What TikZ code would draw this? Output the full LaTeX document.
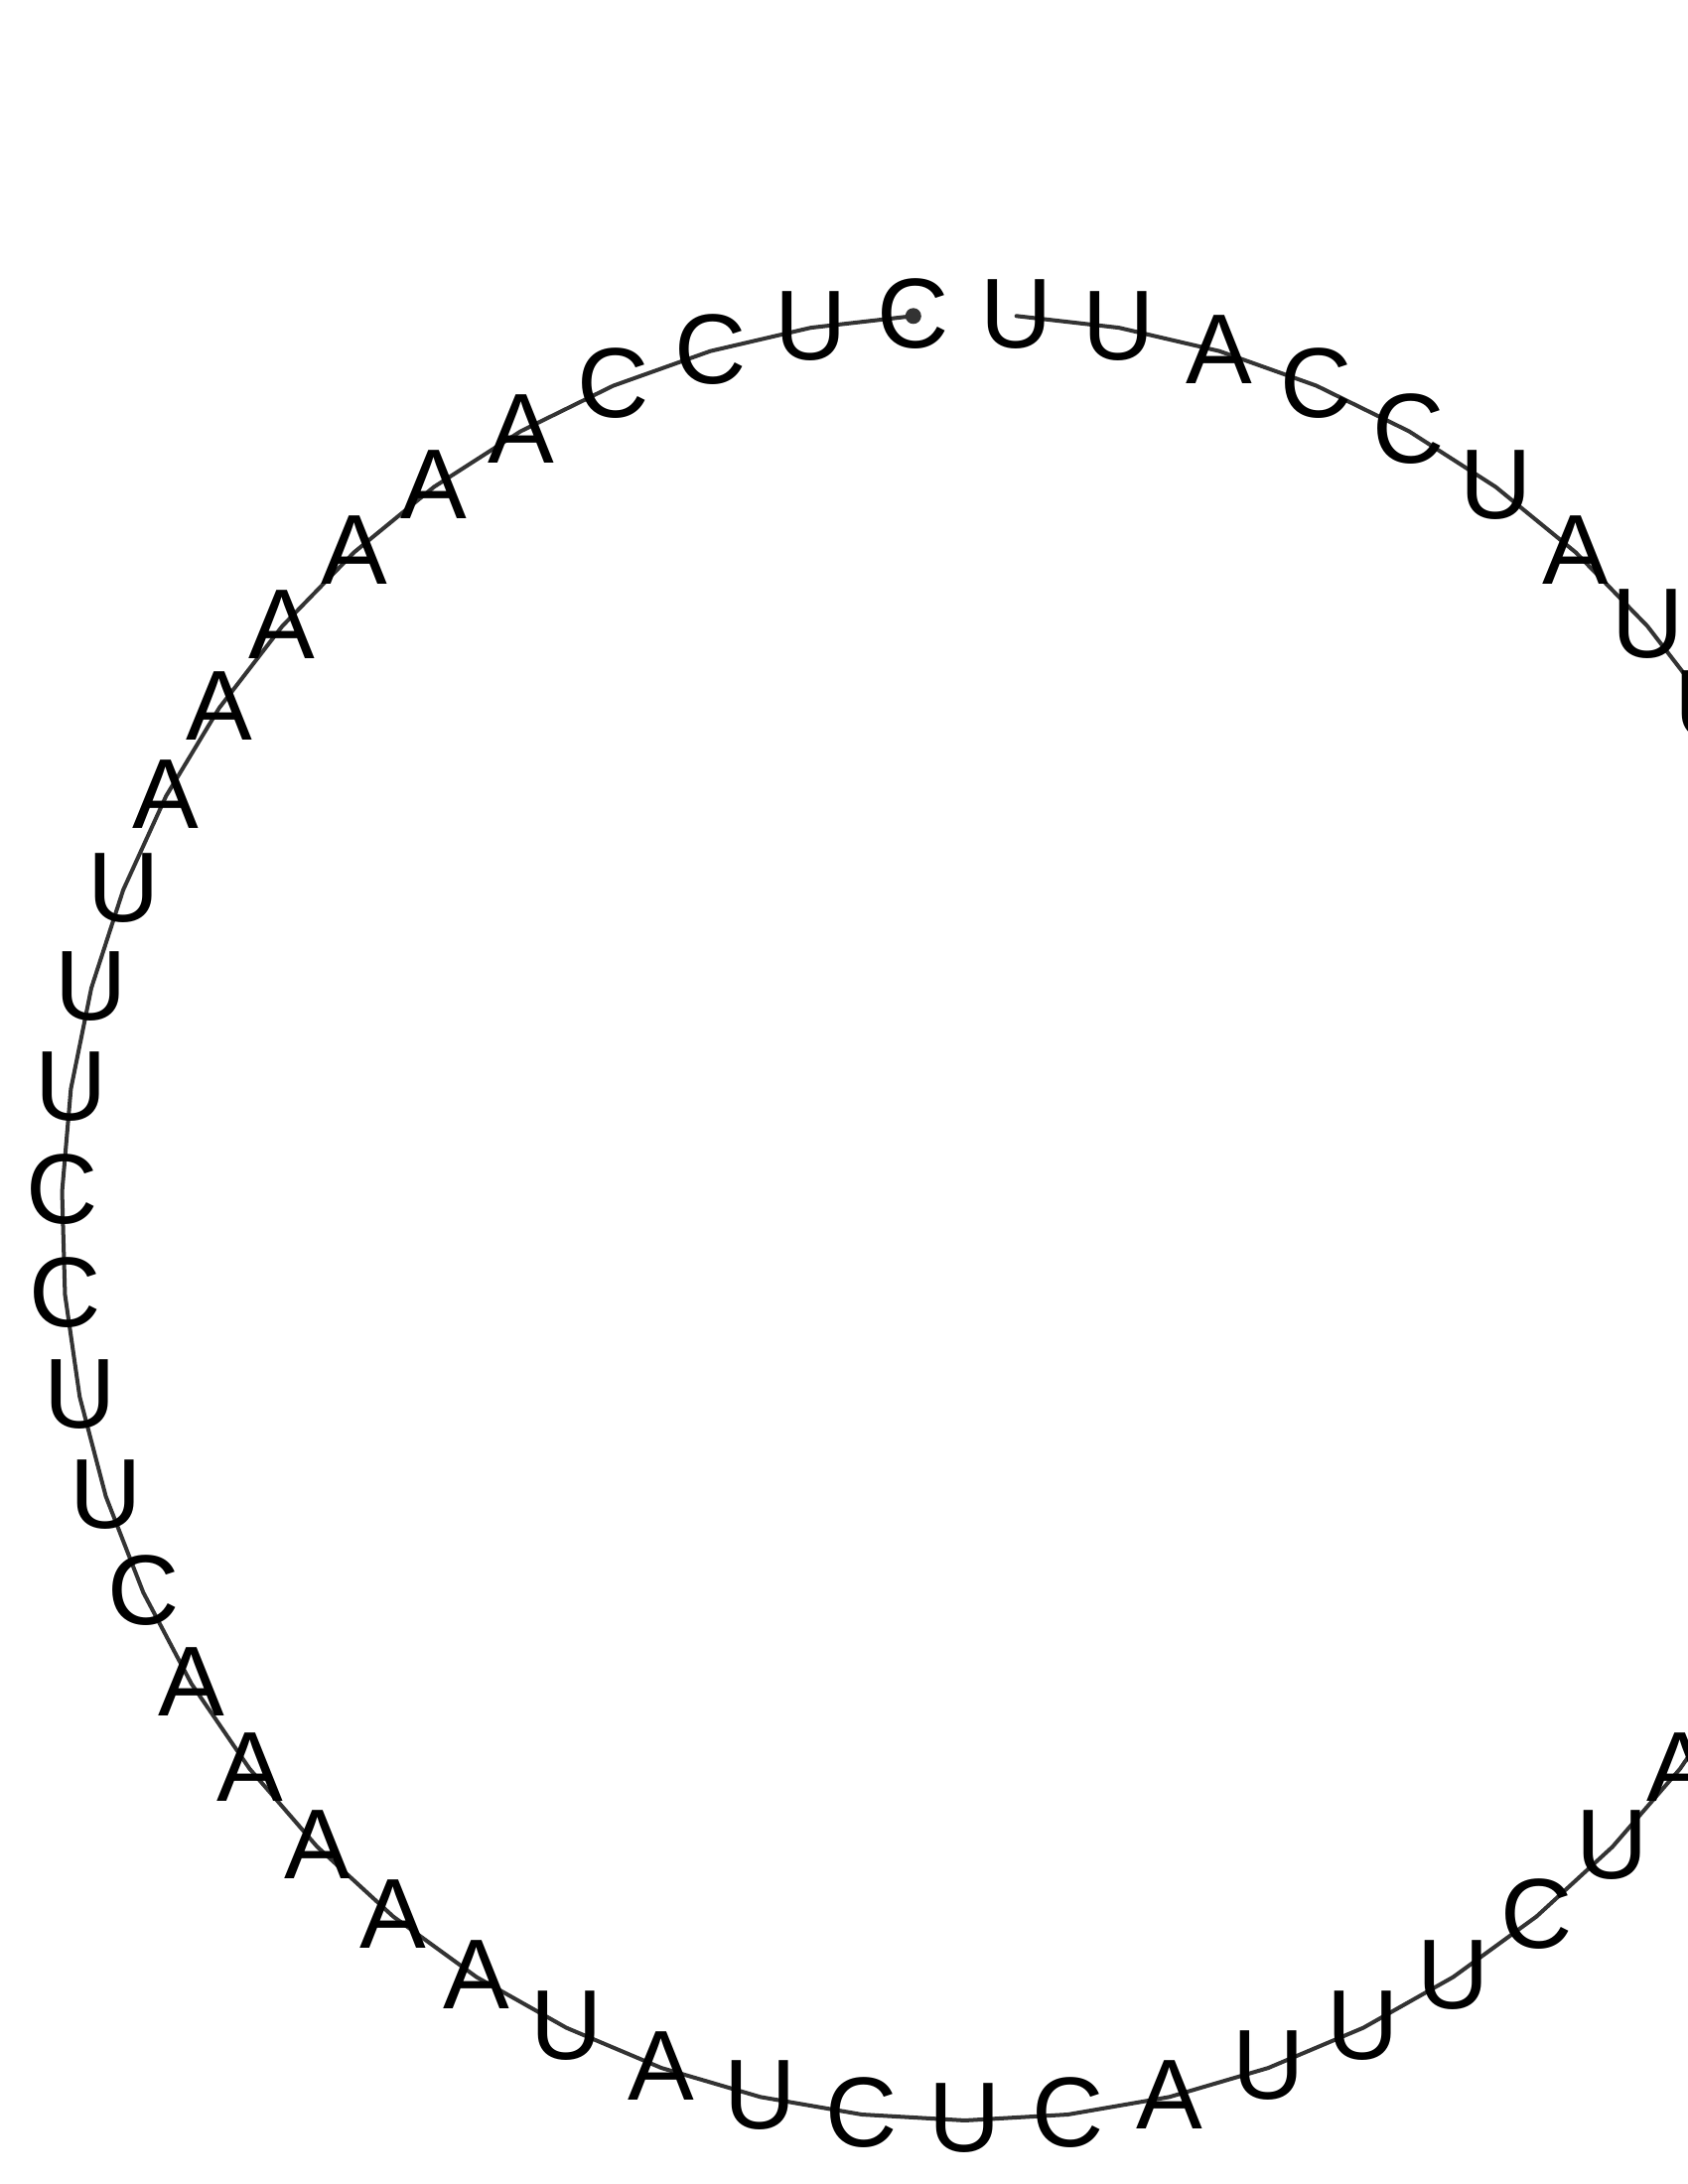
\documentclass[tikz,border=0pt]{standalone}
\usepackage{fontspec}
\setmainfont{Liberation Sans}

\begin{document}
\begin{tikzpicture}[x=0.01cm, y=0.01cm,
	every node/.style={font=\fontsize{28.45}{30}\selectfont, inner sep=0pt},
	base/.style={text=black, yshift=0.02cm},
	backbone/.style={draw=black!80, line width=1.14pt, line cap=round, line join=round}]
	\useasboundingbox (0,0) rectangle (1700,2200);
	\begin{scope}[shift={(971.7,973.6)}]
		\foreach \k in {0,...,54} {
			\pgfmathsetmacro\ang{90+180/55+360/55*\k}
			\coordinate (p\k) at (\ang:909.6);
		}
	\end{scope}
	\draw[backbone] (p0) \foreach \k in {1,...,54} { -- (p\k) };
	\fill[black!80] (p0) circle (8);
	\foreach \k/\b in {0/C,1/U,2/C,3/C,4/A,5/A,6/A,7/A,8/A,9/A,10/U,11/U,12/U,13/C,14/C,15/U,16/U,17/C,
		18/A,19/A,20/A,21/A,22/A,23/U,24/A,25/U,26/C,27/U,28/C,29/A,30/U,31/U,32/U,33/C,34/U,35/A,
		46/U,47/U,48/A,49/U,50/C,51/C,52/A,53/U,54/U}
		\node[base] (n\k) at (p\k) {\b};
\end{tikzpicture}
\end{document}
